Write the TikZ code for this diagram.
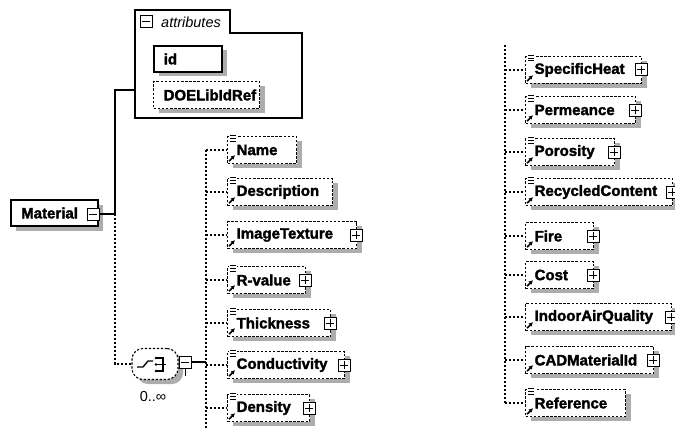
\documentclass[tikz,border=0pt]{standalone}
\usepackage{fontspec}
\setmainfont{Liberation Sans}
\newfontfamily\elfont[BoldFeatures={FakeBold=2}]{Liberation Sans}
\usetikzlibrary{shadows,shapes.misc,calc,arrows.meta}

\tikzset{
  conn/.style={line width=1.2pt, dash pattern=on 2.2pt off 1.8pt},
  solidconn/.style={line width=1.1pt},
  shad/.style={general shadow={fill=black!32, shadow xshift=5pt, shadow yshift=-4.5pt}},
  elem/.style={draw, line width=1.3pt, dash pattern=on 2.5pt off 1.6pt, fill=white, shad,
    minimum height=27pt, inner xsep=9pt, inner ysep=0pt, anchor=west, align=left,
    font=\elfont\bfseries\fontsize{15}{17}\selectfont},
  solidbox/.style={draw, line width=1.5pt, fill=white, shad,
    minimum height=26pt, inner xsep=10pt, inner ysep=0pt, anchor=west, align=left,
    font=\elfont\bfseries\fontsize{15}{17}\selectfont},
  pbox/.style={draw, line width=1pt, fill=white, minimum size=12pt, inner sep=0pt,
    path picture={\draw[line width=1pt] ([xshift=-4pt]path picture bounding box.center) -- ++(8pt,0);
                  \draw[line width=1pt] ([yshift=-4pt]path picture bounding box.center) -- ++(0,8pt);}},
  mbox/.style={draw, line width=1pt, fill=white, minimum size=12pt, inner sep=0pt,
    path picture={\draw[line width=1pt] ([xshift=-4pt]path picture bounding box.center) -- ++(8pt,0);}},
  arrowicon/.style={solid, line width=1.6pt, -{Latex[length=4pt,width=4.5pt]}},
  seqshape/.style={rectangle, rounded corners=11pt,
    draw, line width=1.1pt, dash pattern=on 2.2pt off 1.8pt, fill=white, shad,
    minimum width=46pt, minimum height=31pt, inner sep=0pt}
}

% id, x, y, width, text, trunk
\newcommand\elem[6]{%
  \pgfmathsetmacro\tw{#4-18}%
  \node[elem, text width=\tw pt] (#1) at (#2,#3) {#5};
  \draw[conn] (#1.west -| #6) -- (#1.west);
  \draw[arrowicon] ($(#1.south west)+(2,-3)$) -- ++(6,-6);
}
\newcommand\plusbox[1]{\node[pbox] (#1p) at ([xshift=-1pt]#1.east) {};}
\newcommand\ctlines[1]{%
  \fill[white] ($(#1.north west)+(1.5,-2.5)$) rectangle ($(#1.north west)+(9.5,7.5)$);
  \draw[line width=.9pt] ($(#1.north west)+(3,-0.5)$) -- ++(6,0)
    ($(#1.north west)+(3,2.3)$) -- ++(6,0) ($(#1.north west)+(3,5.1)$) -- ++(6,0);
}

\begin{document}
\begin{tikzpicture}[x=1pt,y=-1pt]
\useasboundingbox (0,0) rectangle (675,428);

% ---------- attributes container ----------
\draw[line width=1.3pt] (135,10) -- (230,10) -- (230,33) -- (302,33) -- (302,118) -- (135,118) -- cycle;
\coordinate (attrL) at (135,90);
\node[mbox] (attrm) at (146,22) {};
\node[anchor=west, inner sep=0pt, font=\itshape\fontsize{14.5}{16}\selectfont] (attrt) at (161,22) {attributes};
\node[solidbox, text width=48pt] (id) at (153,59) {id};
\node[elem, text width=86pt, inner xsep=10pt] (doe) at (153,95) {DOELibIdRef};

% ---------- Material ----------
\node[solidbox, text width=66pt, inner xsep=10.5pt] (mat) at (10,213) {Material};
\node[mbox] (matm) at (93,214) {};
\coordinate (mj) at (115,214);
\draw[solidconn] (matm.east) -- (mj) |- (attrL);

% ---------- sequence compositor ----------
\node[seqshape] (seq) at (155,364) {};
\draw[conn] (mj) |- (seq.west);
\draw[line width=1.3pt] (137,367) -- (143,367) -- (148,361) -- (153,361);
\fill (156,358) circle (1.4pt) (156,364.5) circle (1.4pt) (156,371) circle (1.4pt);
\draw[line width=1.2pt] (156,358) -- (163,358) -- (163,371) -- (156,371) (156,364.5) -- (166,364.5);
\node[mbox] (seqm) at (185,362) {};
\draw[line width=1pt] (seqm.south) -- ++(0,7);
\node[anchor=north, inner sep=0pt, font=\fontsize{14.5}{16}\selectfont] (card) at (153,391) {0..∞};

% ---------- trunks ----------
\coordinate (tL) at (206,150);
\coordinate (tLb) at (206,428);
\coordinate (tR) at (505,45);
\coordinate (tRb) at (505,403);
\draw[conn] (tL) -- (tLb);
\draw[conn] (tR) -- (tRb);
\draw[solidconn] (seqm.east) -- (seqm.east -| tL);

% ---------- left column ----------
\elem{name}{227}{150}{69}{Name}{tL}          \ctlines{name}
\elem{desc}{227}{192}{105}{Description}{tL}  \ctlines{desc}
\elem{imgtex}{227}{235}{129}{ImageTexture}{tL} \plusbox{imgtex}
\elem{rval}{227}{280}{78}{R-value}{tL}       \ctlines{rval} \plusbox{rval}
\elem{thick}{227}{323}{103}{Thickness}{tL}   \ctlines{thick} \plusbox{thick}
\elem{cond}{227}{365}{117}{Conductivity}{tL} \ctlines{cond} \plusbox{cond}
\elem{dens}{227}{408}{82}{Density}{tL}       \ctlines{dens} \plusbox{dens}

% ---------- right column ----------
\elem{spec}{525}{70}{116}{SpecificHeat}{tR}   \ctlines{spec} \plusbox{spec}
\elem{perm}{525}{110}{110}{Permeance}{tR}     \ctlines{perm} \plusbox{perm}
\elem{poro}{525}{152}{89}{Porosity}{tR}       \ctlines{poro} \plusbox{poro}
\elem{recy}{525}{192}{147}{RecycledContent}{tR} \ctlines{recy} \plusbox{recy}
\elem{fire}{525}{236}{68}{Fire}{tR}           \plusbox{fire}
\elem{cost}{525}{275}{68}{Cost}{tR}           \plusbox{cost}
\elem{iaq}{525}{317}{146}{IndoorAirQuality}{tR} \plusbox{iaq}
\elem{cad}{525}{360}{128}{CADMaterialId}{tR}  \plusbox{cad}
\elem{ref}{525}{403}{100}{Reference}{tR}      \ctlines{ref}
\end{tikzpicture}
\end{document}
